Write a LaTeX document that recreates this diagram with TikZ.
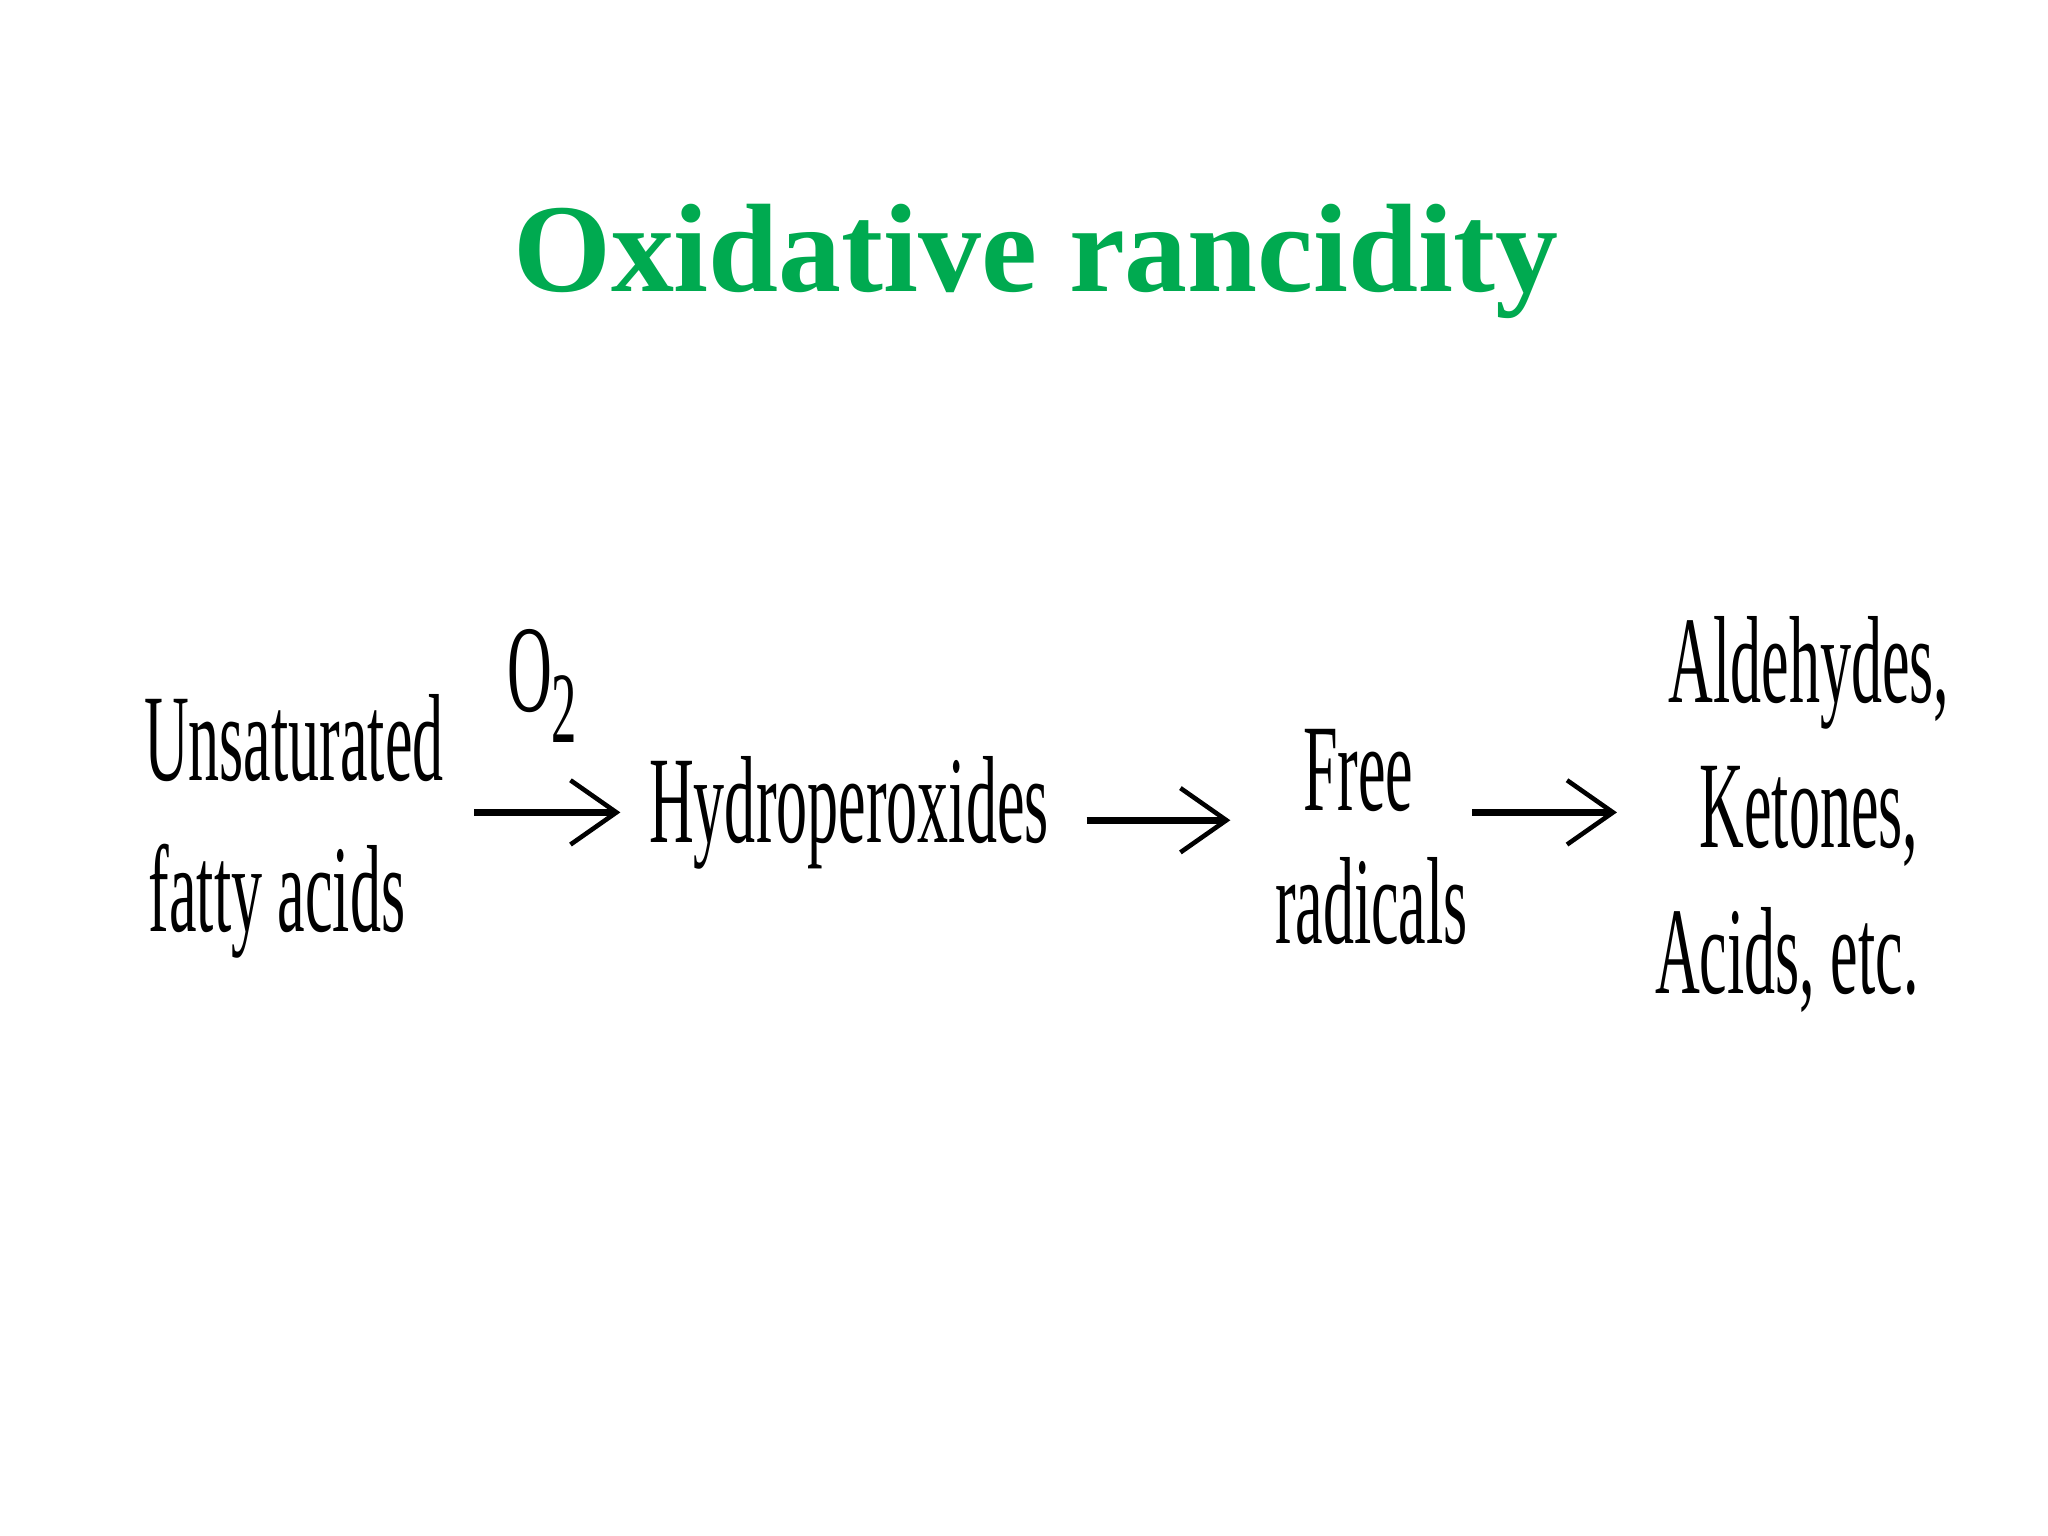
\documentclass[tikz,border=0pt]{standalone}
\usepackage{fontspec}
\setmainfont{Liberation Serif}
\usetikzlibrary{arrows.meta}
\definecolor{tgreen}{RGB}{0,170,80}
\newcommand{\cz}[1]{\scalebox{0.5}[1]{#1}}
\tikzset{lbl/.style={inner sep=0pt,font=\fontsize{27}{30}\selectfont},
 rarr/.style={line width=1.6pt,-{Straight Barb[length=10pt,width=14pt,line width=1pt]}}}
\begin{document}
\begin{tikzpicture}[x=0.01cm,y=-0.01cm]
\useasboundingbox (0,0) rectangle (1568,1176);
\node[text=tgreen,font=\fontsize{27.4}{30}\selectfont\bfseries] (title) at (793,200) {Oxidative rancidity};
\node[lbl] (u1) at (225,565) {\cz{Unsaturated}};
\node[lbl] (u2) at (212,690) {\cz{fatty acids}};
\node[lbl] (o2) at (415,525) {\cz{O\raisebox{-0.55ex}{\fontsize{22}{24}\selectfont 2}}};
\coordinate (a1s) at (363,622); \coordinate (a1e) at (475,622);
\node[lbl] (h) at (650,622) {\cz{Hydroperoxides}};
\coordinate (a2s) at (832,628); \coordinate (a2e) at (942,628);
\node[lbl] (f1) at (1040,590) {\cz{Free}};
\node[lbl] (f2) at (1050,690) {\cz{radicals}};
\coordinate (a3s) at (1127,622); \coordinate (a3e) at (1238,622);
\node[lbl] (p1) at (1385,515) {\cz{Aldehydes,}};
\node[lbl] (p2) at (1385,625) {\cz{Ketones,}};
\node[lbl] (p3) at (1368,735) {\cz{Acids, etc.}};
\draw[rarr] (a1s) -- (a1e);
\draw[rarr] (a2s) -- (a2e);
\draw[rarr] (a3s) -- (a3e);
\end{tikzpicture}
\end{document}
